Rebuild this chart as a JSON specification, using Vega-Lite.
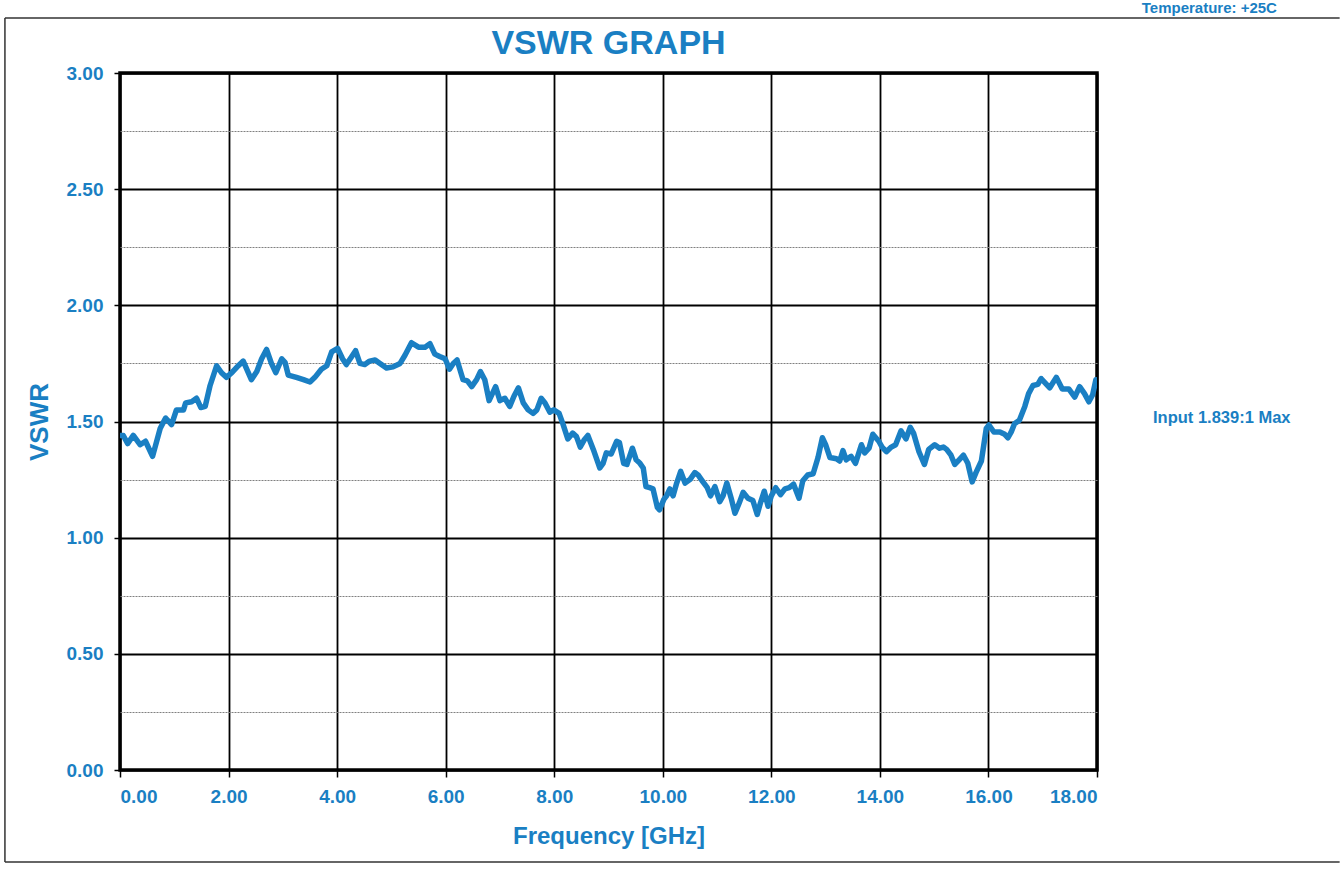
{
  "$schema": "https://vega.github.io/schema/vega-lite/v6.json",
  "width": 977,
  "height": 697,
  "autosize": "none",
  "padding": {"left": 120, "top": 73, "right": 243, "bottom": 103},
  "background": "white",
  "config": {
    "view": {"stroke": "black", "strokeWidth": 3.5},
    "font": "Liberation Sans"
  },
  "datasets": {
    "vswr": [
      {"f": 0.0, "v": 1.44}, {"f": 0.06, "v": 1.44}, {"f": 0.14, "v": 1.405}, {"f": 0.245, "v": 1.44},
      {"f": 0.37, "v": 1.4}, {"f": 0.47, "v": 1.415}, {"f": 0.6, "v": 1.35}, {"f": 0.74, "v": 1.47},
      {"f": 0.84, "v": 1.515}, {"f": 0.95, "v": 1.487}, {"f": 1.04, "v": 1.55}, {"f": 1.17, "v": 1.55},
      {"f": 1.21, "v": 1.58}, {"f": 1.32, "v": 1.585}, {"f": 1.41, "v": 1.6}, {"f": 1.49, "v": 1.56},
      {"f": 1.57, "v": 1.565}, {"f": 1.66, "v": 1.655}, {"f": 1.78, "v": 1.74}, {"f": 1.87, "v": 1.71},
      {"f": 1.96, "v": 1.69}, {"f": 2.06, "v": 1.71}, {"f": 2.18, "v": 1.74}, {"f": 2.27, "v": 1.76},
      {"f": 2.42, "v": 1.68}, {"f": 2.52, "v": 1.715}, {"f": 2.61, "v": 1.77}, {"f": 2.7, "v": 1.81},
      {"f": 2.79, "v": 1.75}, {"f": 2.87, "v": 1.71}, {"f": 2.98, "v": 1.77}, {"f": 3.04, "v": 1.755},
      {"f": 3.1, "v": 1.7}, {"f": 3.25, "v": 1.69}, {"f": 3.38, "v": 1.68}, {"f": 3.5, "v": 1.67},
      {"f": 3.59, "v": 1.69}, {"f": 3.71, "v": 1.725}, {"f": 3.81, "v": 1.74}, {"f": 3.9, "v": 1.8},
      {"f": 4.01, "v": 1.815}, {"f": 4.1, "v": 1.77}, {"f": 4.17, "v": 1.745}, {"f": 4.27, "v": 1.78},
      {"f": 4.34, "v": 1.805}, {"f": 4.42, "v": 1.75}, {"f": 4.51, "v": 1.745}, {"f": 4.6, "v": 1.76},
      {"f": 4.7, "v": 1.765}, {"f": 4.79, "v": 1.75}, {"f": 4.91, "v": 1.73}, {"f": 5.03, "v": 1.735},
      {"f": 5.16, "v": 1.75}, {"f": 5.25, "v": 1.785}, {"f": 5.37, "v": 1.839}, {"f": 5.5, "v": 1.82},
      {"f": 5.62, "v": 1.82}, {"f": 5.71, "v": 1.835}, {"f": 5.8, "v": 1.79}, {"f": 5.89, "v": 1.78},
      {"f": 5.99, "v": 1.77}, {"f": 6.07, "v": 1.725}, {"f": 6.14, "v": 1.75}, {"f": 6.21, "v": 1.765},
      {"f": 6.32, "v": 1.68}, {"f": 6.4, "v": 1.675}, {"f": 6.48, "v": 1.65}, {"f": 6.57, "v": 1.68},
      {"f": 6.64, "v": 1.715}, {"f": 6.72, "v": 1.68}, {"f": 6.8, "v": 1.59}, {"f": 6.86, "v": 1.62},
      {"f": 6.92, "v": 1.65}, {"f": 7.0, "v": 1.59}, {"f": 7.09, "v": 1.6}, {"f": 7.18, "v": 1.565},
      {"f": 7.26, "v": 1.61}, {"f": 7.34, "v": 1.645}, {"f": 7.43, "v": 1.58}, {"f": 7.52, "v": 1.55},
      {"f": 7.61, "v": 1.535}, {"f": 7.68, "v": 1.55}, {"f": 7.76, "v": 1.6}, {"f": 7.83, "v": 1.58},
      {"f": 7.92, "v": 1.54}, {"f": 7.99, "v": 1.55}, {"f": 8.09, "v": 1.535}, {"f": 8.16, "v": 1.49},
      {"f": 8.25, "v": 1.425}, {"f": 8.34, "v": 1.45}, {"f": 8.41, "v": 1.435}, {"f": 8.48, "v": 1.39},
      {"f": 8.55, "v": 1.42}, {"f": 8.62, "v": 1.44}, {"f": 8.72, "v": 1.38}, {"f": 8.81, "v": 1.32},
      {"f": 8.84, "v": 1.3}, {"f": 8.9, "v": 1.32}, {"f": 8.96, "v": 1.365}, {"f": 9.05, "v": 1.36},
      {"f": 9.15, "v": 1.415}, {"f": 9.2, "v": 1.41}, {"f": 9.28, "v": 1.32}, {"f": 9.34, "v": 1.315},
      {"f": 9.44, "v": 1.385}, {"f": 9.51, "v": 1.335}, {"f": 9.58, "v": 1.32}, {"f": 9.64, "v": 1.3},
      {"f": 9.69, "v": 1.22}, {"f": 9.76, "v": 1.215}, {"f": 9.82, "v": 1.21}, {"f": 9.9, "v": 1.13},
      {"f": 9.94, "v": 1.12}, {"f": 10.02, "v": 1.165}, {"f": 10.07, "v": 1.18}, {"f": 10.13, "v": 1.21},
      {"f": 10.19, "v": 1.18}, {"f": 10.25, "v": 1.23}, {"f": 10.33, "v": 1.285}, {"f": 10.41, "v": 1.235},
      {"f": 10.5, "v": 1.25}, {"f": 10.59, "v": 1.28}, {"f": 10.65, "v": 1.27}, {"f": 10.74, "v": 1.24},
      {"f": 10.82, "v": 1.215}, {"f": 10.88, "v": 1.18}, {"f": 10.96, "v": 1.22}, {"f": 11.05, "v": 1.155},
      {"f": 11.11, "v": 1.18}, {"f": 11.18, "v": 1.235}, {"f": 11.26, "v": 1.17}, {"f": 11.33, "v": 1.105},
      {"f": 11.41, "v": 1.15}, {"f": 11.48, "v": 1.195}, {"f": 11.57, "v": 1.17}, {"f": 11.66, "v": 1.16},
      {"f": 11.74, "v": 1.1}, {"f": 11.8, "v": 1.15}, {"f": 11.87, "v": 1.2}, {"f": 11.94, "v": 1.135},
      {"f": 12.0, "v": 1.18}, {"f": 12.08, "v": 1.215}, {"f": 12.17, "v": 1.185}, {"f": 12.25, "v": 1.21},
      {"f": 12.33, "v": 1.215}, {"f": 12.41, "v": 1.23}, {"f": 12.51, "v": 1.17}, {"f": 12.58, "v": 1.245},
      {"f": 12.67, "v": 1.27}, {"f": 12.77, "v": 1.275}, {"f": 12.86, "v": 1.345}, {"f": 12.94, "v": 1.43},
      {"f": 13.0, "v": 1.4}, {"f": 13.08, "v": 1.345}, {"f": 13.2, "v": 1.34}, {"f": 13.26, "v": 1.33},
      {"f": 13.32, "v": 1.375}, {"f": 13.38, "v": 1.335}, {"f": 13.47, "v": 1.35}, {"f": 13.55, "v": 1.32},
      {"f": 13.66, "v": 1.4}, {"f": 13.72, "v": 1.365}, {"f": 13.8, "v": 1.385}, {"f": 13.87, "v": 1.445},
      {"f": 13.98, "v": 1.415}, {"f": 14.04, "v": 1.39}, {"f": 14.12, "v": 1.37}, {"f": 14.21, "v": 1.39},
      {"f": 14.29, "v": 1.4}, {"f": 14.39, "v": 1.46}, {"f": 14.48, "v": 1.425}, {"f": 14.56, "v": 1.475},
      {"f": 14.62, "v": 1.45}, {"f": 14.72, "v": 1.37}, {"f": 14.82, "v": 1.315}, {"f": 14.9, "v": 1.38},
      {"f": 15.01, "v": 1.4}, {"f": 15.1, "v": 1.385}, {"f": 15.17, "v": 1.39}, {"f": 15.23, "v": 1.38},
      {"f": 15.31, "v": 1.355}, {"f": 15.38, "v": 1.315}, {"f": 15.46, "v": 1.335}, {"f": 15.54, "v": 1.355},
      {"f": 15.62, "v": 1.32}, {"f": 15.7, "v": 1.24}, {"f": 15.77, "v": 1.28}, {"f": 15.87, "v": 1.33},
      {"f": 15.96, "v": 1.47}, {"f": 16.01, "v": 1.485}, {"f": 16.1, "v": 1.455}, {"f": 16.21, "v": 1.455},
      {"f": 16.3, "v": 1.445}, {"f": 16.36, "v": 1.43}, {"f": 16.42, "v": 1.455}, {"f": 16.48, "v": 1.49},
      {"f": 16.57, "v": 1.505}, {"f": 16.67, "v": 1.565}, {"f": 16.74, "v": 1.62}, {"f": 16.82, "v": 1.655},
      {"f": 16.91, "v": 1.66}, {"f": 16.97, "v": 1.685}, {"f": 17.13, "v": 1.645}, {"f": 17.25, "v": 1.69},
      {"f": 17.36, "v": 1.64}, {"f": 17.48, "v": 1.64}, {"f": 17.59, "v": 1.605}, {"f": 17.68, "v": 1.65},
      {"f": 17.77, "v": 1.62}, {"f": 17.85, "v": 1.585}, {"f": 17.92, "v": 1.615}, {"f": 17.98, "v": 1.68}
    ]
  },
  "layer": [
    {
      "data": {"name": "vswr"},
      "mark": {"type": "line", "color": "#1a7fc3", "strokeWidth": 5.5, "strokeJoin": "round", "strokeCap": "round", "clip": true},
      "encoding": {
        "x": {
          "field": "f", "type": "quantitative",
          "scale": {"domain": [0, 18], "nice": false, "zero": false},
          "axis": {
            "values": [0, 2, 4, 6, 8, 10, 12, 14, 16, 18],
            "format": ".2f",
            "title": "Frequency [GHz]",
            "domain": false,
            "grid": true,
            "gridColor": "black",
            "gridWidth": 1.8,
            "gridOpacity": 1,
            "ticks": true,
            "tickColor": "black",
            "tickSize": 7,
            "tickWidth": 1.5,
            "labelFont": "Liberation Sans",
            "labelFontWeight": "bold",
            "labelFontSize": 19,
            "labelColor": "#1a7fc3",
            "labelPadding": 10,
            "titleFont": "Liberation Sans",
            "titleFontWeight": "bold",
            "titleFontSize": 24,
            "titleColor": "#1a7fc3",
            "titlePadding": 18
          }
        },
        "y": {
          "field": "v", "type": "quantitative",
          "scale": {"domain": [0, 3], "nice": false, "zero": false},
          "axis": {
            "values": [0, 0.25, 0.5, 0.75, 1, 1.25, 1.5, 1.75, 2, 2.25, 2.5, 2.75, 3],
            "labelExpr": "datum.value % 0.5 == 0 ? format(datum.value, '.2f') : ''",
            "title": "VSWR",
            "domain": false,
            "grid": true,
            "gridColor": {"condition": {"test": "datum.value % 0.5 != 0", "value": "#808080"}, "value": "black"},
            "gridWidth": {"condition": {"test": "datum.value % 0.5 != 0", "value": 1}, "value": 1.8},
            "gridDash": {"condition": {"test": "datum.value % 0.5 != 0", "value": [2, 1]}, "value": []},
            "gridOpacity": 1,
            "tickColor": "black",
            "tickOpacity": {"condition": {"test": "datum.value % 0.5 != 0", "value": 0}, "value": 1},
            "tickSize": 6,
            "tickWidth": 1.5,
            "labelFont": "Liberation Sans",
            "labelFontWeight": "bold",
            "labelFontSize": 19,
            "labelColor": "#1a7fc3",
            "labelPadding": 11,
            "titleFont": "Liberation Sans",
            "titleFontWeight": "bold",
            "titleFontSize": 26,
            "titleColor": "#1a7fc3",
            "titlePadding": 14
          }
        }
      }
    },
    {
      "data": {"values": [{}]},
      "mark": {"type": "text", "align": "center", "baseline": "alphabetic", "font": "Liberation Sans", "fontWeight": "bold", "fontSize": 34, "color": "#1a7fc3"},
      "encoding": {
        "x": {"datum": 9, "type": "quantitative", "scale": {"domain": [0, 18]}},
        "y": {"datum": 3.082, "type": "quantitative", "scale": {"domain": [0, 3]}},
        "text": {"value": "VSWR GRAPH"}
      }
    },
    {
      "data": {"values": [{}]},
      "mark": {"type": "text", "align": "left", "baseline": "middle", "dx": 56, "font": "Liberation Sans", "fontWeight": "bold", "fontSize": 16.5, "color": "#1a7fc3"},
      "encoding": {
        "x": {"datum": 18, "type": "quantitative", "scale": {"domain": [0, 18]}},
        "y": {"datum": 1.515, "type": "quantitative", "scale": {"domain": [0, 3]}},
        "text": {"value": "Input 1.839:1 Max"}
      }
    },
    {
      "data": {"values": [{}]},
      "mark": {"type": "text", "align": "center", "baseline": "alphabetic", "font": "Liberation Sans", "fontWeight": "bold", "fontSize": 15, "color": "#1a7fc3"},
      "encoding": {
        "x": {"datum": 20.07, "type": "quantitative", "scale": {"domain": [0, 18]}},
        "y": {"datum": 3.259, "type": "quantitative", "scale": {"domain": [0, 3]}},
        "text": {"value": "Temperature: +25C"}
      }
    },
    {
      "data": {"values": [{}]},
      "mark": {"type": "rule", "color": "#333", "strokeWidth": 1.5},
      "encoding": {
        "x": {"datum": -2.12, "type": "quantitative", "scale": {"domain": [0, 18]}},
        "y": {"datum": 3.237, "type": "quantitative", "scale": {"domain": [0, 3]}},
        "y2": {"datum": -0.396}
      }
    },
    {
      "data": {"values": [{}]},
      "mark": {"type": "rule", "color": "#333", "strokeWidth": 1.5},
      "encoding": {
        "y": {"datum": -0.396, "type": "quantitative", "scale": {"domain": [0, 3]}},
        "x": {"datum": -2.12, "type": "quantitative", "scale": {"domain": [0, 18]}},
        "x2": {"datum": 22.47}
      }
    },
    {
      "data": {"values": [{}]},
      "mark": {"type": "rule", "color": "#333", "strokeWidth": 1.5},
      "encoding": {
        "y": {"datum": 3.237, "type": "quantitative", "scale": {"domain": [0, 3]}},
        "x": {"datum": -2.12, "type": "quantitative", "scale": {"domain": [0, 18]}},
        "x2": {"datum": 22.47}
      }
    }
  ]
}
